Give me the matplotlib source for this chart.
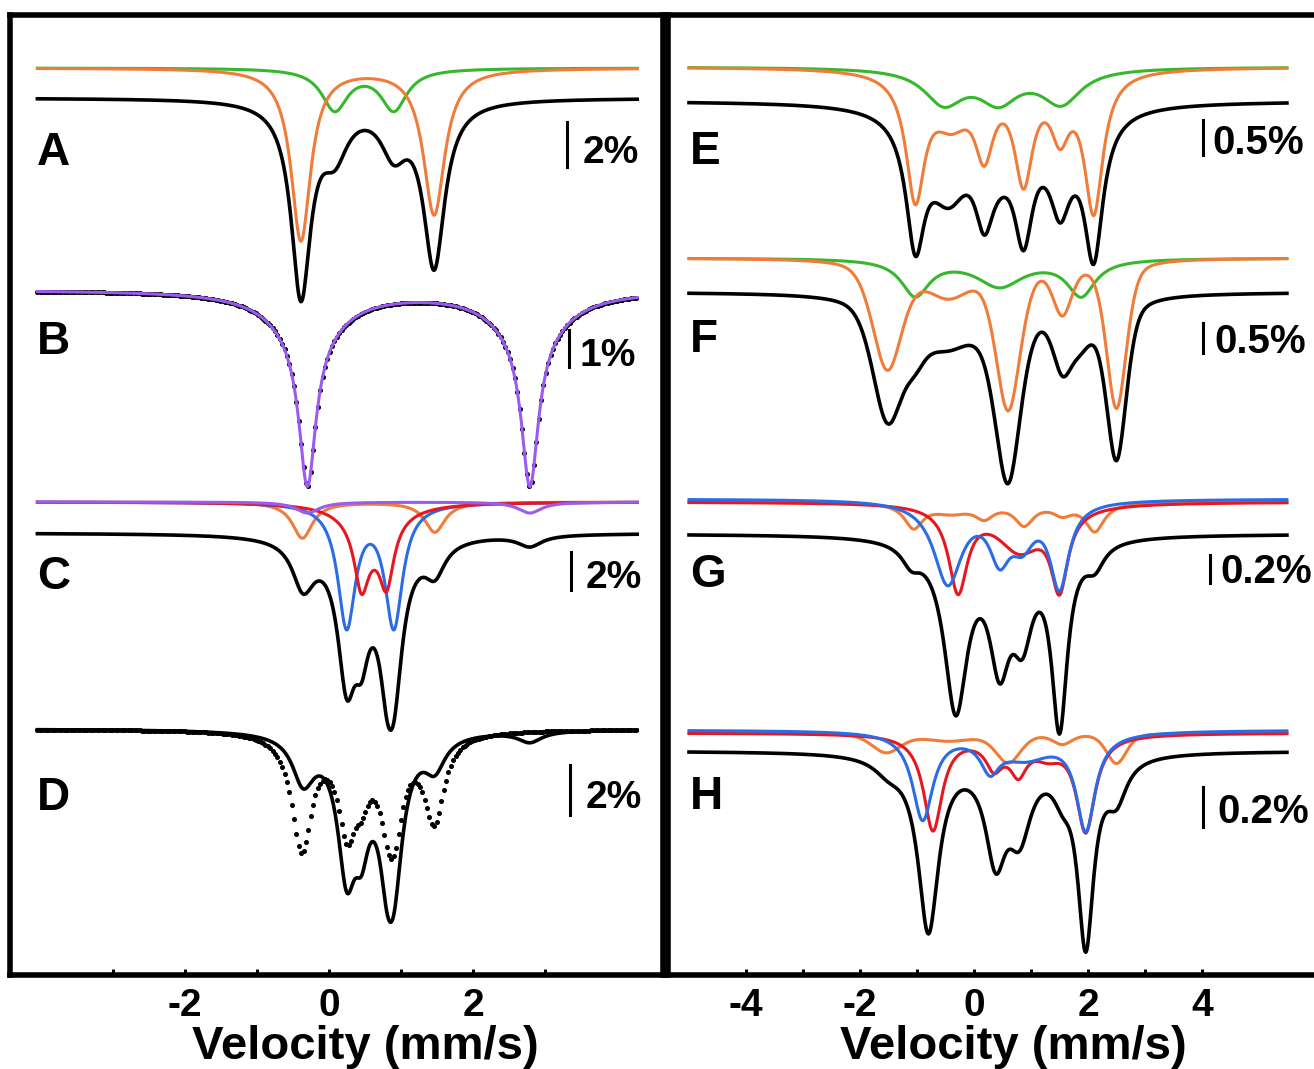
import numpy as np
import matplotlib
matplotlib.use("Agg")
import matplotlib.pyplot as plt

plt.rcParams["font.family"] = ["Liberation Sans", "DejaVu Sans"]
plt.rcParams["font.weight"] = "bold"
plt.rcParams["axes.unicode_minus"] = False

W, H, DPI = 1314, 1069, 100

ORANGE = "#F07C3A"
GREEN = "#37B82C"
PURPLE = "#9C5BEF"
RED = "#E8161E"
BLUE = "#2B6CE6"

# absorption lines: (velocity mm/s, depth, half width mm/s)
# depth is in pixels of the original figure (each spectrum has its own % scale bar)
A_ORANGE = [(-0.39, 172, 0.165), (1.46, 146, 0.18)]
A_GREEN = [(0.08, 41, 0.22), (0.90, 41, 0.22)]
A_DATA_SCALE = 1.12

B_PURPLE = [(-0.30, 150, 0.14), (2.79, 150, 0.14), (-0.30, 45, 0.55), (2.79, 45, 0.55)]

C_ORANGE = [(-0.37, 36, 0.17), (1.47, 30, 0.17)]
C_BLUE = [(0.245, 122, 0.15), (0.90, 122, 0.15)]
C_RED = [(0.45, 60, 0.12), (0.80, 60, 0.12), (0.60, 30, 0.38)]
C_PURPLE = [(-0.30, 11, 0.20), (2.79, 11, 0.20)]

D_SOLID_SCALE = 0.98   # D solid trace relative to the C fit
D_DOTTED = [(-0.38, 115, 0.17), (1.46, 85, 0.17), (0.25, 85, 0.15), (0.90, 85, 0.15),
            (0.45, 30, 0.12), (0.80, 30, 0.12), (0.60, 15, 0.38)]

E_GREEN = [(-0.53, 34, 0.42), (0.43, 31, 0.42), (1.53, 34, 0.42)]
E_ORANGE = [(-1.03, 121, 0.20), (-0.40, 45, 0.40), (0.18, 71, 0.20),
            (0.87, 103, 0.20), (1.51, 55, 0.20), (2.10, 138, 0.20)]

F_GREEN = [(-1.03, 36, 0.30), (0.45, 27, 0.50), (1.88, 36, 0.30)]
F_ORANGE = [(-1.52, 108, 0.31), (-0.45, 34, 0.50), (0.60, 147, 0.26),
            (1.55, 50, 0.20), (2.50, 148, 0.21)]
F_ORANGE_ETA = 0.4     # lorentzian fraction of the line shape
F_DATA_SCALE = 1.06

G_ORANGE = [(-1.06, 24, 0.20), (-0.40, 9, 0.40), (0.18, 13, 0.20),
            (0.88, 21, 0.20), (1.55, 10, 0.20), (2.12, 28, 0.20)]
G_RED = [(-0.28, 84, 0.20), (0.80, 45, 0.50), (1.50, 77, 0.18)]
G_BLUE = [(-0.46, 82, 0.30), (0.45, 50, 0.22), (0.85, 35, 0.25), (1.50, 84, 0.20)]
G_DATA = [(-1.10, 18, 0.20), (-0.32, 168, 0.25), (0.45, 110, 0.22),
          (0.85, 80, 0.22), (1.50, 182, 0.17), (2.12, 22, 0.20)]

H_ORANGE = [(-1.54, 19, 0.31), (-0.45, 7, 0.50), (0.60, 29, 0.26),
            (1.55, 10, 0.20), (2.50, 30, 0.21)]
H_RED = [(-0.72, 95, 0.20), (0.35, 24, 0.17), (0.78, 28, 0.17),
         (0.60, 8, 0.60), (1.30, 15, 0.30), (1.96, 95, 0.20)]
H_BLUE = [(-0.90, 87, 0.22), (0.28, 30, 0.20), (0.90, 25, 0.60), (1.96, 95, 0.20)]
H_DATA = [(-1.50, 13, 0.30), (-0.80, 175, 0.22), (0.38, 95, 0.22), (0.80, 70, 0.25),
          (1.55, 25, 0.20), (1.96, 185, 0.17), (2.50, 38, 0.22)]

LEFT_TICKS = [-3, -2, -1, 0, 1, 2, 3]
RIGHT_TICKS = [-4, -3, -2, -1, 0, 1, 2, 3, 4]


def absorption(v, lines, eta=1.0):
    out = np.zeros_like(v)
    for pos, depth, hw in lines:
        u = (v - pos) / hw
        out += depth * (eta / (1 + u ** 2) + (1 - eta) * np.exp(-np.log(2) * u ** 2))
    return out


def px_rect(x0, x1, y0, y1):
    return [x0 / W, 1 - y1 / H, (x1 - x0) / W, (y1 - y0) / H]


def ftext(x, y, s, size, ha="left"):
    fig.text(x / W, 1 - y / H, s, fontsize=size, fontweight="bold", ha=ha, va="baseline")


def scale_bar(x, y0, y1):
    fig.add_artist(plt.Line2D([x / W, x / W], [1 - y0 / H, 1 - y1 / H], color="k", lw=2.2))


vL = np.linspace(-4.05, 4.28, 700)
vR = np.linspace(-5.0, 5.49, 700)
chL = np.arange(-4.05, 4.28, 0.033)   # spectrometer channels for point data

fig = plt.figure(figsize=(W / DPI, H / DPI), dpi=DPI)
axL = fig.add_axes(px_rect(9.5, 662.5, 14.5, 975))
axR = fig.add_axes(px_rect(667.5, 1322, 14.5, 975))

axL.set_xlim((9.5 - 329) / 72, (662.5 - 329) / 72)
axR.set_xlim((667.5 - 974) / 57, (1322 - 974) / 57)
for ax in (axL, axR):
    ax.set_ylim(975, 14.5)       # y in picture rows
    ax.set_yticks([])
    for sp in ax.spines.values():
        sp.set_linewidth(4)
    ax.tick_params(axis="x", direction="in", length=4, width=2.2, labelsize=28, pad=9)

axL.set_xticks(LEFT_TICKS, [str(t) if t % 2 == 0 else "" for t in LEFT_TICKS])
axR.set_xticks(RIGHT_TICKS, [str(t) if t % 2 == 0 else "" for t in RIGHT_TICKS])

lw_c, lw_d = 2.2, 2.6

# ---- A
axL.plot(vL, 68 + absorption(vL, A_GREEN), color=GREEN, lw=lw_c)
axL.plot(vL, 68 + absorption(vL, A_ORANGE), color=ORANGE, lw=lw_c)
axL.plot(vL, 98 + A_DATA_SCALE * (absorption(vL, A_GREEN) + absorption(vL, A_ORANGE)),
         color="k", lw=lw_d)

# ---- B
axL.plot(chL, 290 + absorption(chL, B_PURPLE), "o", color="k", ms=2.6)
axL.plot(vL, 290 + absorption(vL, B_PURPLE), color=PURPLE, lw=lw_c)

# ---- C
c_parts = [(C_ORANGE, ORANGE), (C_BLUE, BLUE), (C_RED, RED), (C_PURPLE, PURPLE)]
for lines, col in c_parts:
    axL.plot(vL, 502 + absorption(vL, lines), color=col, lw=lw_c)
c_fit = sum(absorption(vL, lines) for lines, _ in c_parts)
axL.plot(vL, 533 + c_fit, color="k", lw=lw_d)

# ---- D
axL.plot(chL, 729 + absorption(chL, D_DOTTED), "o", color="k", ms=2.6)
axL.plot(vL, 729 + D_SOLID_SCALE * c_fit, color="k", lw=lw_d)

# ---- E
axR.plot(vR, 67 + absorption(vR, E_GREEN), color=GREEN, lw=lw_c)
axR.plot(vR, 67 + absorption(vR, E_ORANGE), color=ORANGE, lw=lw_c)
axR.plot(vR, 101 + absorption(vR, E_GREEN) + absorption(vR, E_ORANGE), color="k", lw=lw_d)

# ---- F
f_green = absorption(vR, F_GREEN)
f_orange = absorption(vR, F_ORANGE, F_ORANGE_ETA)
axR.plot(vR, 258 + f_green, color=GREEN, lw=lw_c)
axR.plot(vR, 258 + f_orange, color=ORANGE, lw=lw_c)
axR.plot(vR, 292 + F_DATA_SCALE * (f_green + f_orange), color="k", lw=lw_d)

# ---- G
axR.plot(vR, 502 + absorption(vR, G_ORANGE), color=ORANGE, lw=lw_c)
axR.plot(vR, 502 + absorption(vR, G_RED), color=RED, lw=lw_c)
axR.plot(vR, 499 + absorption(vR, G_BLUE), color=BLUE, lw=lw_c)
axR.plot(vR, 534 + absorption(vR, G_DATA), color="k", lw=lw_d)

# ---- H
axR.plot(vR, 733 + absorption(vR, H_ORANGE, F_ORANGE_ETA), color=ORANGE, lw=lw_c)
axR.plot(vR, 733 + absorption(vR, H_RED), color=RED, lw=lw_c)
axR.plot(vR, 730 + absorption(vR, H_BLUE), color=BLUE, lw=lw_c)
axR.plot(vR, 751 + absorption(vR, H_DATA), color="k", lw=lw_d)

# panel letters
for s, x, y in [("A", 37, 165), ("B", 37, 354), ("C", 37, 589), ("D", 37, 810),
                ("E", 690, 164), ("F", 690, 352), ("G", 690, 587), ("H", 690, 809)]:
    ftext(x, y, s, 33)

# scale bars
for x, y0, y1, tx, ty, s, size in [
        (567, 122, 167, 583, 163, "2%", 28),
        (569, 330, 367, 580, 366, "1%", 28),
        (571, 552, 590, 586, 588, "2%", 28),
        (570, 765, 815, 586, 808, "2%", 28),
        (1203, 120, 155, 1212, 154, "0.5%", 29),
        (1203, 323, 353, 1214, 353, "0.5%", 29),
        (1210, 555, 583, 1220, 583, "0.2%", 29),
        (1203, 787, 827, 1217, 823, "0.2%", 29)]:
    scale_bar(x, y0, y1)
    ftext(tx, ty, s, size)

ftext(365, 1059, "Velocity (mm/s)", 34, ha="center")
ftext(1013, 1059, "Velocity (mm/s)", 34, ha="center")

fig.savefig("out.png", dpi=DPI)
